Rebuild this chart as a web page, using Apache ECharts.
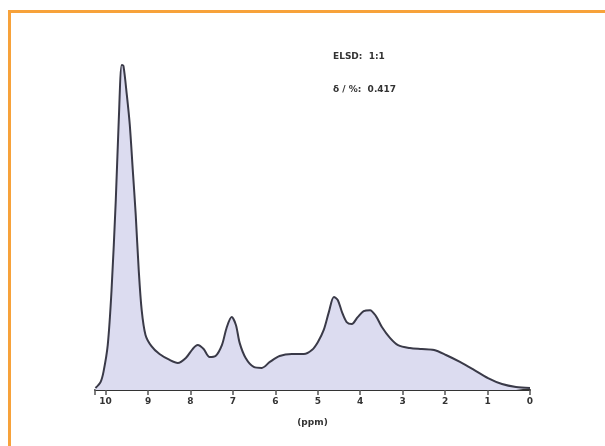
<!DOCTYPE html>
<html><head><meta charset="utf-8">
<script src="https://cdn.jsdelivr.net/npm/echarts@6/dist/echarts.min.js"></script>
<style>html,body{margin:0;padding:0;background:#fff;}#c{width:605px;height:446px;}</style>
</head><body><div id="c"></div>
<script>
var xValues = [10.24,10.12,10.05,9.95,9.86,9.76,9.69,9.62,9.58,9.50,9.43,9.36,9.29,9.22,9.15,9.06,8.92,8.73,8.49,8.30,8.11,7.95,7.83,7.69,7.55,7.41,7.26,7.15,7.03,6.93,6.84,6.70,6.51,6.32,6.13,5.90,5.61,5.33,5.14,5.00,4.86,4.74,4.62,4.53,4.43,4.32,4.20,4.06,3.92,3.77,3.63,3.49,3.30,3.11,2.83,2.55,2.26,1.98,1.65,1.32,0.99,0.66,0.33,0];
var yValues = [0.6,2.4,5.5,13.6,30.3,57.6,81.8,98.5,98.2,89.4,80.3,66.7,53,36.4,24.2,16.7,13.3,10.9,9.1,8.2,9.7,12.4,13.6,12.4,10,10.3,13.6,18.8,22.1,19.7,14.2,9.7,7,6.7,8.5,10.3,10.9,10.9,12.1,14.5,18.2,23.6,28.2,27.3,23.6,20.6,20,22.1,23.9,24.2,22.4,19.1,15.8,13.6,12.7,12.4,12.1,10.6,8.5,6.1,3.6,1.8,0.9,0.6];
var tickLabels = ["10","9","8","7","6","5","4","3","2","1","0"];
var axisTitle = "(ppm)";
var notes = ["ELSD:  1:1", "δ / %:  0.417"];

var data = xValues.map(function(x,i){return [x, yValues[i]];});
var chart = echarts.init(document.getElementById('c'));
chart.setOption({
  animation:false,
  grid:{left:95,right:75,top:60,bottom:56},
  xAxis:{type:'value',inverse:true,min:0,max:10.25,interval:1,
    axisLine:{lineStyle:{color:'#333',width:2}},
    axisTick:{show:true,length:5,lineStyle:{color:'#555',width:1.5}},
    axisLabel:{color:'#333',fontSize:9,fontWeight:'bold',margin:7,fontFamily:'DejaVu Sans',
      formatter:function(v){var i=Math.round(10-v);return (Math.abs(v-Math.round(v))<1e-6 && i>=0 && i<tickLabels.length)?tickLabels[i]:'';}},
    splitLine:{show:false},
    name:axisTitle,nameLocation:'middle',nameGap:28,
    nameTextStyle:{color:'#333',fontSize:9,fontWeight:'bold',fontFamily:'DejaVu Sans'}
  },
  yAxis:{type:'value',min:0,max:100,show:false},
  series:[{type:'line',data:data,smooth:0.3,symbol:'none',
    lineStyle:{color:'#3a3a48',width:2},
    areaStyle:{color:'#dcdcf0',opacity:1}}],
  graphic:[
    {type:'rect',shape:{x:9.5,y:11.5,width:640,height:480},style:{fill:'none',stroke:'#f7a23a',lineWidth:3}},
    {type:'text',left:333,top:52,style:{text:notes[0],fill:'#333',font:'bold 9px DejaVu Sans'}},
    {type:'text',left:333,top:85,style:{text:notes[1],fill:'#333',font:'bold 9px DejaVu Sans'}}
  ]
});
</script></body></html>
